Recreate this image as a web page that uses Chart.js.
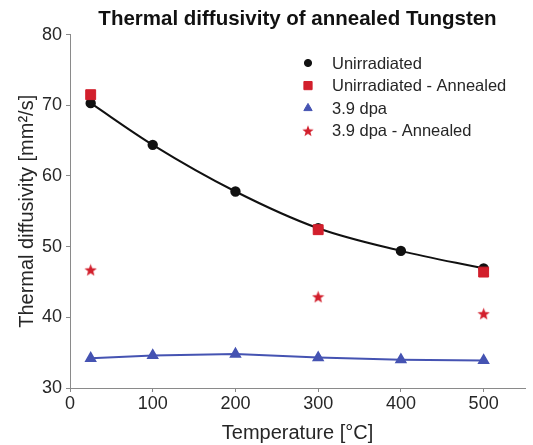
<!DOCTYPE html>
<html>
<head>
<meta charset="utf-8">
<script src="https://cdn.jsdelivr.net/npm/chart.js@4/dist/chart.umd.min.js"></script>
<style>
  html, body { margin: 0; padding: 0; background: #fff; }
  #wrap { width: 533px; height: 445px; }
</style>
</head>
<body>
<div id="wrap"><canvas id="chart" width="533" height="445"></canvas></div>
<script>
// data
const temps = [25, 100, 200, 300, 400, 500];
const annealedTemps = [25, 300, 500];
const unirradiated = [70.3, 64.4, 57.8, 52.6, 49.4, 46.9];
const unirrAnnealed = [71.5, 52.4, 46.4];
const dpa = [34.2, 34.6, 34.8, 34.3, 34.0, 33.9];
const dpaAnnealed = [46.7, 42.9, 40.5];
const seriesNames = ["Unirradiated", "Unirradiated - Annealed", "3.9 dpa", "3.9 dpa - Annealed"];
const xTicks = [0, 100, 200, 300, 400, 500];
const yTicks = [30, 40, 50, 60, 70, 80];

const FONT = "'Liberation Sans', Arial, Helvetica, sans-serif";
const BLACK = "#111111",
  RED = "#d21f2c",
  BLUE = "#4553b2",
  AXIS = "#8a8a8a",
  TEXT = "#262626";

const toPoints = (xs, ys) => xs.map((x, i) => ({ x: x, y: ys[i] }));

// filled five point star used as a point style
const makeStar = (size, color) => {
  const c = document.createElement("canvas");
  c.width = size;
  c.height = size;
  const ctx = c.getContext("2d");
  const cx = size / 2, cy = size / 2 + 0.5, R = size / 2, r = R * 0.42;
  ctx.beginPath();
  for (let i = 0; i < 10; i++) {
    const rad = i % 2 === 0 ? R : r;
    const a = -Math.PI / 2 + (i * Math.PI) / 5;
    ctx.lineTo(cx + rad * Math.cos(a), cy + rad * Math.sin(a));
  }
  ctx.closePath();
  ctx.fillStyle = color;
  ctx.fill();
  return c;
};
const starImg = makeStar(13, RED);
const legendStar = makeStar(12, RED);

// legend drawn inside the plot, without a box
const legendRadius = [3.6, 5.8, 4.8, 6];
const plotLegend = {
  id: "plotLegend",
  afterDraw(chart) {
    const ctx = chart.ctx;
    const x0 = 308, y0 = 63, step = 22.6;
    ctx.save();
    ctx.font = "16.5px " + FONT;
    ctx.textBaseline = "middle";
    chart.data.datasets.forEach((ds, i) => {
      const y = y0 + i * step;
      const style = ds.pointStyle === starImg ? legendStar : ds.pointStyle;
      ctx.fillStyle = ds.pointBackgroundColor;
      ctx.strokeStyle = ds.pointBorderColor;
      ctx.lineWidth = 1;
      Chart.helpers.drawPoint(ctx, { pointStyle: style, radius: legendRadius[i], rotation: 0, borderWidth: 1 }, x0, y);
      ctx.fillStyle = TEXT;
      ctx.fillText(ds.label, 332, y + 1);
    });
    ctx.restore();
  },
};

const tickFont = { family: FONT, size: 18 };

const config = {
  type: "scatter",
  data: {
    datasets: [
      {
        label: seriesNames[0],
        data: toPoints(temps, unirradiated),
        showLine: true,
        borderColor: BLACK,
        borderWidth: 2,
        pointStyle: "circle",
        pointRadius: 4.2,
        pointBackgroundColor: BLACK,
        pointBorderColor: BLACK,
        cubicInterpolationMode: "monotone",
        order: 2,
      },
      {
        label: seriesNames[1],
        data: toPoints(annealedTemps, unirrAnnealed),
        showLine: false,
        pointStyle: "rect",
        pointRadius: 7,
        pointBackgroundColor: RED,
        pointBorderColor: RED,
        order: 0,
      },
      {
        label: seriesNames[2],
        data: toPoints(temps, dpa),
        showLine: true,
        borderColor: BLUE,
        borderWidth: 2,
        pointStyle: "triangle",
        pointRadius: 5.2,
        pointBackgroundColor: BLUE,
        pointBorderColor: BLUE,
        order: 3,
      },
      {
        label: seriesNames[3],
        data: toPoints(annealedTemps, dpaAnnealed),
        showLine: false,
        pointStyle: starImg,
        pointRadius: 7,
        pointBackgroundColor: RED,
        pointBorderColor: RED,
        order: 1,
      },
    ],
  },
  options: {
    responsive: false,
    animation: false,
    devicePixelRatio: 1,
    layout: { padding: { left: 0, right: 7, top: 0, bottom: 0 } },
    plugins: {
      legend: { display: false },
      tooltip: { enabled: false },
      title: {
        display: true,
        fullSize: false,
        text: "Thermal diffusivity of annealed Tungsten",
        color: "#111",
        font: { family: FONT, size: 20.5, weight: "bold" },
        padding: { top: 7, bottom: 3 },
      },
    },
    scales: {
      x: {
        type: "linear",
        min: 0,
        max: 550,
        afterFit: (scale) => { scale.height = 57; },
        afterBuildTicks: (scale) => { scale.ticks = xTicks.map((v) => ({ value: v })); },
        border: { display: true, color: AXIS, width: 1 },
        grid: { drawOnChartArea: false, drawTicks: true, tickLength: 4, color: AXIS },
        ticks: { color: TEXT, font: tickFont, padding: 1, maxRotation: 0 },
        title: {
          display: true,
          text: "Temperature [°C]",
          color: TEXT,
          font: { family: FONT, size: 20 },
          padding: { top: 0, bottom: 0 },
        },
      },
      y: {
        type: "linear",
        min: 30,
        max: 80,
        afterFit: (scale) => { scale.width = 70; },
        afterBuildTicks: (scale) => { scale.ticks = yTicks.map((v) => ({ value: v })); },
        border: { display: true, color: AXIS, width: 1 },
        grid: { drawOnChartArea: false, drawTicks: true, tickLength: 4, color: AXIS },
        ticks: { color: TEXT, font: tickFont, padding: 4 },
        title: {
          display: true,
          text: "Thermal diffusivity [mm²/s]",
          color: TEXT,
          font: { family: FONT, size: 20 },
          padding: { top: 15, bottom: 0 },
        },
      },
    },
  },
  plugins: [plotLegend],
};

new Chart(document.getElementById("chart"), config);
</script>
</body>
</html>
